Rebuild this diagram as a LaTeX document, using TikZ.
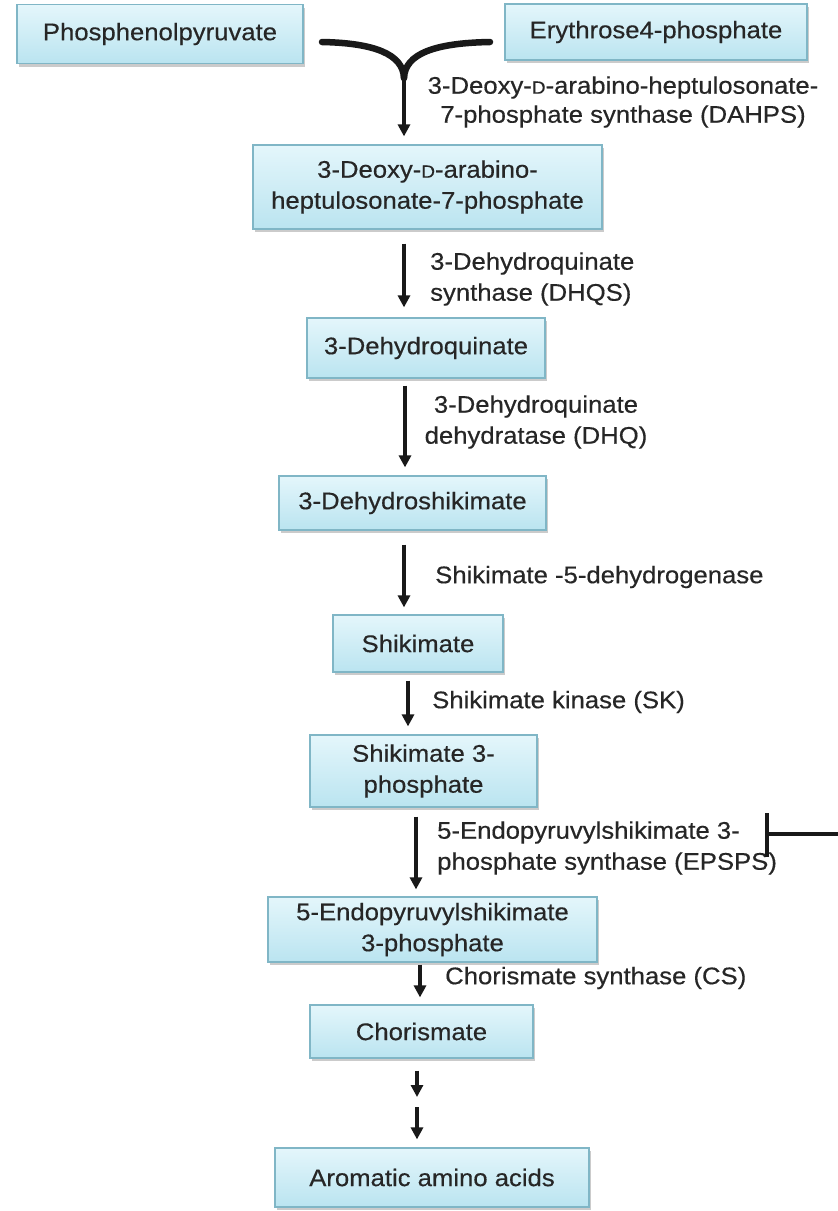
\documentclass[tikz,border=0pt]{standalone}
\usepackage{fontspec}
\setmainfont{Liberation Sans}[FakeStretch=1.07,FakeBold=0.4]
\usetikzlibrary{arrows.meta,shadows}
\definecolor{boxline}{RGB}{128,182,198}
\definecolor{boxtop}{RGB}{228,246,251}
\definecolor{boxbot}{RGB}{186,228,240}
\definecolor{txt}{RGB}{38,38,38}
\newcommand\smD{\scalebox{0.74}{D}}
\tikzset{
  pbox/.style={draw=boxline, line width=1.2pt, top color=boxtop, bottom color=boxbot,
    inner sep=0pt, align=center, text=txt, font=\fontsize{24}{31}\selectfont,
    drop shadow={shadow xshift=1.5pt, shadow yshift=-3pt, fill=black!45, opacity=0.45}},
  lab/.style={inner sep=0pt, text=txt, font=\fontsize{24}{31}\selectfont},
  arr/.style={line width=3.6pt, draw=black!90, -{Triangle[width=12pt,length=12pt]}},
  ythick/.style={line width=6.5pt, draw=black!90, line cap=round},
}
\begin{document}
\begin{tikzpicture}[x=1pt,y=-1pt]
\useasboundingbox (0,0) rectangle (838,1211);
\fill[white] (0,0) rectangle (838,1211);
% boxes
\node[pbox, minimum width=286pt, minimum height=59pt] (B1) at (160,34) {Phosphenolpyruvate};
\node[pbox, minimum width=302pt, minimum height=56pt] (B2) at (656,32) {Erythrose4-phosphate};
\node[pbox, minimum width=349pt, minimum height=84pt] (B3) at (427.5,187) {3-Deoxy-\smD-arabino-\\heptulosonate-7-phosphate};
\node[pbox, minimum width=238pt, minimum height=60pt] (B4) at (426,348) {3-Dehydroquinate};
\node[pbox, minimum width=267pt, minimum height=54pt] (B5) at (412.5,503) {3-Dehydroshikimate};
\node[pbox, minimum width=170pt, minimum height=57pt] (B6) at (418,643.5) {Shikimate};
\node[pbox, minimum width=227pt, minimum height=72pt] (B7) at (423.5,771) {Shikimate 3-\\phosphate};
\node[pbox, minimum width=329pt, minimum height=65pt] (B8) at (432.5,929.5) {5-Endopyruvylshikimate\\3-phosphate};
\node[pbox, minimum width=223pt, minimum height=53pt] (B9) at (421.5,1031.5) {Chorismate};
\node[pbox, minimum width=314pt, minimum height=59pt] (B10) at (432,1177.5) {Aromatic amino acids};
% labels
\node[lab, align=center] (L1) at (623,102) {3-Deoxy-\smD-arabino-heptulosonate-\\[-2pt]7-phosphate synthase (DAHPS)};
\node[lab, align=left, anchor=west] (L2) at (430,279) {3-Dehydroquinate\\synthase (DHQS)};
\node[lab, align=center] (L3) at (536,422) {3-Dehydroquinate\\dehydratase (DHQ)};
\node[lab, anchor=west] (L4) at (435,577) {Shikimate -5-dehydrogenase};
\node[lab, anchor=west] (L5) at (432,702) {Shikimate kinase (SK)};
\node[lab, align=left, anchor=west] (L6) at (437,848) {5-Endopyruvylshikimate 3-\\phosphate synthase (EPSPS)};
\node[lab, anchor=west] (L7) at (445,978) {Chorismate synthase (CS)};
% Y junction
\coordinate (yl) at (322,42);
\coordinate (yr) at (490,42);
\coordinate (J) at (404,78);
\draw[ythick] (yl) .. controls (374,43) and (403,54) .. (J);
\draw[ythick] (yr) .. controls (434,43) and (405,54) .. (J);
\draw[arr, shorten >=8pt] (J) -- (B3.north -| J);
% column coordinates
\coordinate (c2) at (404,0);
\coordinate (c3) at (405,0);
\coordinate (c4) at (404,0);
\coordinate (c5) at (408,0);
\coordinate (c6) at (416,0);
\coordinate (c7) at (420,0);
\coordinate (c8) at (417,0);
\draw[arr, shorten <=14pt, shorten >=10pt] (B3.south -| c2) -- (B4.north -| c2);
\draw[arr, shorten <=7pt, shorten >=8pt] (B4.south -| c3) -- (B5.north -| c3);
\draw[arr, shorten <=14pt, shorten >=7pt] (B5.south -| c4) -- (B6.north -| c4);
\draw[arr, shorten <=8pt, shorten >=8pt] (B6.south -| c5) -- (B7.north -| c5);
\draw[arr, shorten <=9pt, shorten >=7pt] (B7.south -| c6) -- (B8.north -| c6);
\draw[arr, shorten <=2pt, shorten >=7pt] (B8.south -| c7) -- (B9.north -| c7);
\coordinate (mid) at (417,1102);
\draw[arr, shorten <=12pt, shorten >=5pt] (B9.south -| c8) -- (mid);
\draw[arr, shorten <=5pt, shorten >=8pt] (mid) -- (B10.north -| c8);
% inhibition
\coordinate (bar) at (767,834);
\coordinate (edge) at (839,834);
\draw[line width=3.6pt, draw=black!90] (edge) -- (bar);
\draw[line width=3.6pt, draw=black!90] ([yshift=21pt]bar) -- ([yshift=-23pt]bar);
\end{tikzpicture}
\end{document}
